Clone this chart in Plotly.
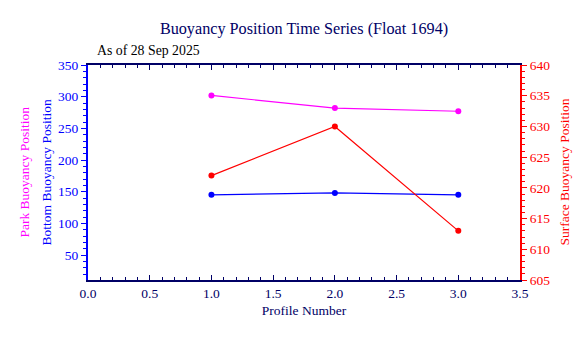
import plotly.graph_objects as go

profiles = [1, 2, 3]
park_pos = [302, 282, 277]
bottom_pos = [145, 148, 145]
surface_pos = [622, 630, 613]

title_text = "Buoyancy Position Time Series (Float 1694)"
date_text = "As of 28 Sep 2025"

NAVY = "#000066"
FONT = "Liberation Serif"
TS = 13.5

fig = go.Figure()
fig.add_trace(go.Scatter(x=profiles, y=park_pos, mode="lines+markers",
                         line=dict(color="#ff00ff", width=1.2),
                         marker=dict(color="#ff00ff", size=6), yaxis="y"))
fig.add_trace(go.Scatter(x=profiles, y=bottom_pos, mode="lines+markers",
                         line=dict(color="#0000ff", width=1.2),
                         marker=dict(color="#0000ff", size=6), yaxis="y"))
fig.add_trace(go.Scatter(x=profiles, y=surface_pos, mode="lines+markers",
                         line=dict(color="#ff0000", width=1.2),
                         marker=dict(color="#ff0000", size=6), yaxis="y2"))

fig.update_layout(
    width=588, height=338,
    margin=dict(l=88, r=68, t=65, b=58),
    paper_bgcolor="white", plot_bgcolor="white",
    showlegend=False,
    font=dict(family=FONT, size=TS, color=NAVY),
    title=dict(text=title_text, x=(88 + 520) / 2 / 588, xanchor="center",
               y=1 - 28 / 338, yanchor="middle",
               font=dict(family=FONT, size=16.2, color=NAVY)),
    xaxis=dict(range=[0, 3.5], dtick=0.5, tick0=0, tickformat=".1f",
               showgrid=False, zeroline=False,
               showline=True, linecolor=NAVY, linewidth=2, mirror="ticks",
               ticks="inside", ticklen=5, tickcolor=NAVY, tickwidth=1,
               minor=dict(dtick=0.1, ticks="inside", ticklen=3, tickcolor=NAVY),
               tickfont=dict(family=FONT, size=TS, color=NAVY),
               title=dict(text="Profile Number", standoff=5,
                          font=dict(family=FONT, size=TS, color=NAVY))),
    yaxis=dict(range=[10.6, 350], dtick=50, tick0=0,
               showgrid=False, zeroline=False,
               showline=True, linecolor="#0000ff", linewidth=2,
               ticks="outside", ticklen=5, tickcolor="#0000ff", tickwidth=1,
               minor=dict(dtick=10, ticks="outside", ticklen=3, tickcolor="#0000ff"),
               tickfont=dict(family=FONT, size=TS, color="#0000ff")),
    yaxis2=dict(range=[605, 640], dtick=5, tick0=0, overlaying="y", side="right",
                showgrid=False, zeroline=False,
                showline=True, linecolor="#ff0000", linewidth=2,
                ticks="outside", ticklen=5, tickcolor="#ff0000", tickwidth=1,
                minor=dict(dtick=1, ticks="outside", ticklen=3, tickcolor="#ff0000"),
                tickfont=dict(family=FONT, size=TS, color="#ff0000")),
    annotations=[
        dict(text=date_text, xref="paper", yref="paper", x=(95 - 88) / 432, y=1 + (65 - 50) / 215,
             xanchor="left", yanchor="middle", showarrow=False,
             font=dict(family=FONT, size=13.8, color="black")),
        dict(text="Park Buoyancy Position", xref="paper", yref="paper",
             x=-(88 - 24) / 432, y=0.5, textangle=-90, showarrow=False,
             xanchor="center", yanchor="middle",
             font=dict(family=FONT, size=TS, color="#ff00ff")),
        dict(text="Bottom Buoyancy Position", xref="paper", yref="paper",
             x=-(88 - 46) / 432, y=0.5, textangle=-90, showarrow=False,
             xanchor="center", yanchor="middle",
             font=dict(family=FONT, size=TS, color="#0000ff")),
        dict(text="Surface Buoyancy Position", xref="paper", yref="paper",
             x=1 + (564 - 520) / 432, y=0.5, textangle=-90, showarrow=False,
             xanchor="center", yanchor="middle",
             font=dict(family=FONT, size=TS, color="#ff0000")),
    ],
)

fig.write_html("out.html")
